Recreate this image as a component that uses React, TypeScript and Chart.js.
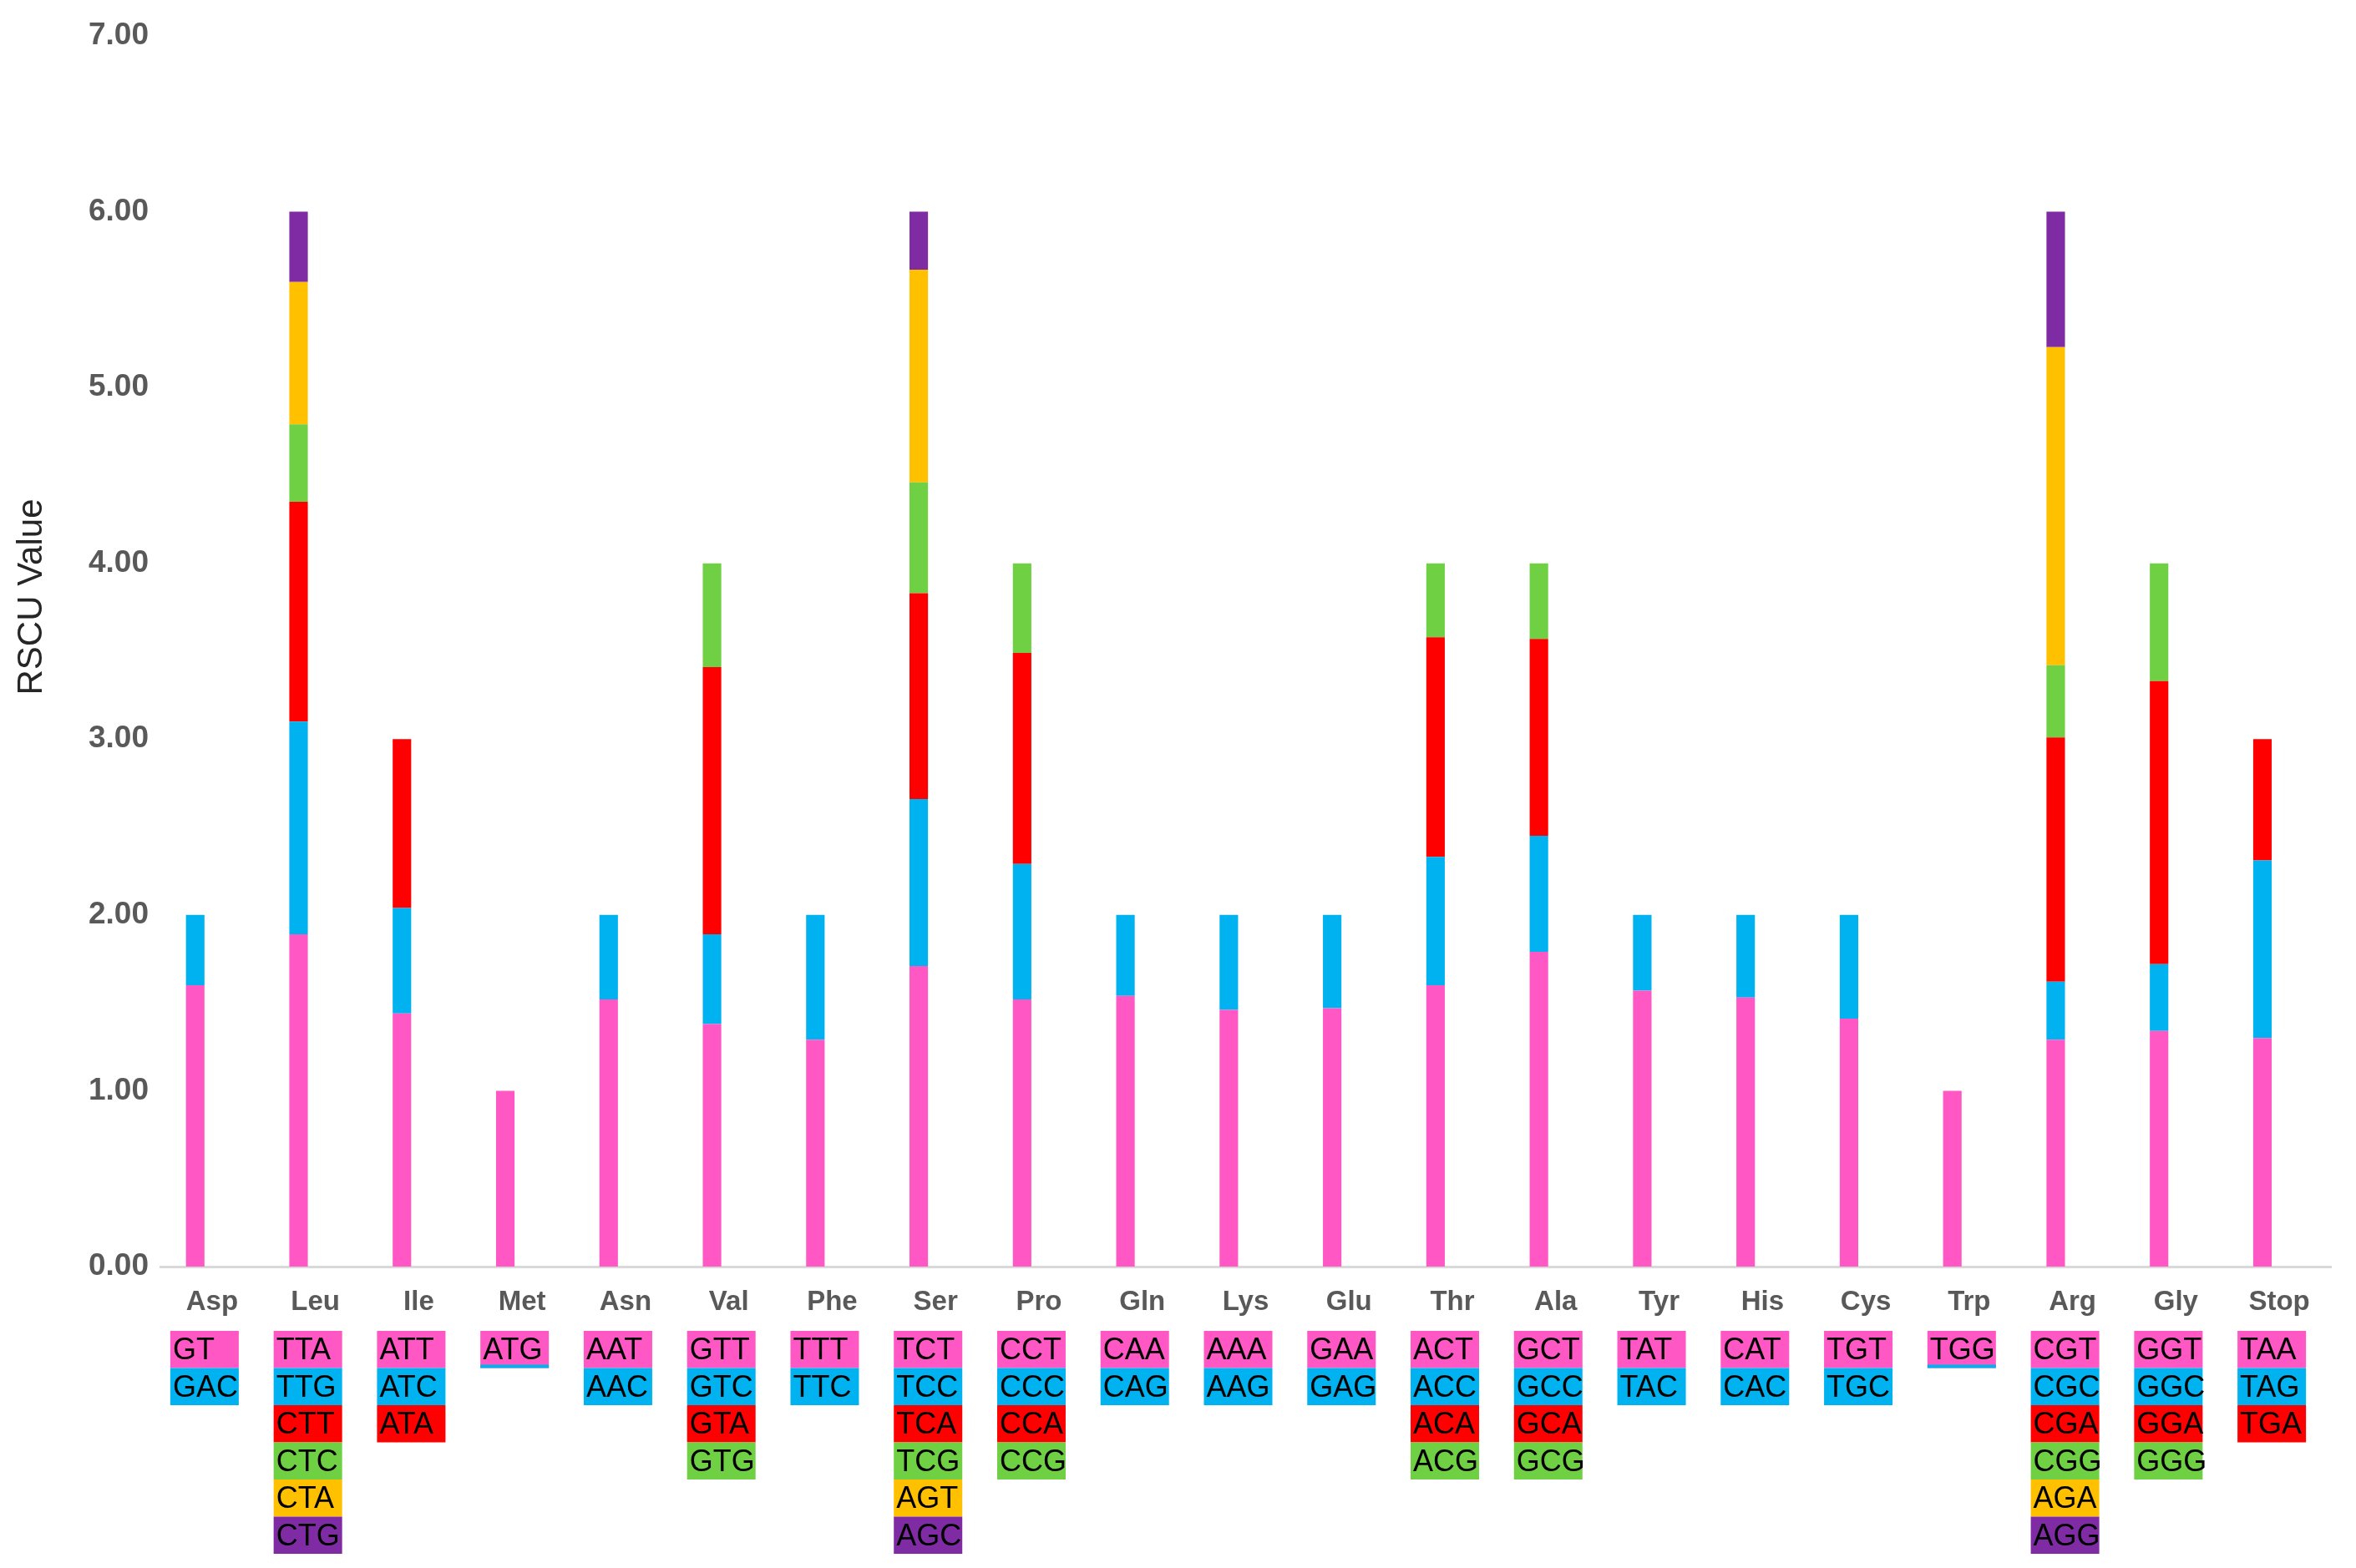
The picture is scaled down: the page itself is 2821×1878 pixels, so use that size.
import { useEffect, useRef } from 'react';
import { Chart, registerables } from 'chart.js';

Chart.register(...registerables);

const FONT = '"Liberation Sans", Arial, Helvetica, sans-serif';

const categories = ['Asp', 'Leu', 'Ile', 'Met', 'Asn', 'Val', 'Phe', 'Ser', 'Pro', 'Gln', 'Lys', 'Glu', 'Thr', 'Ala', 'Tyr', 'His', 'Cys', 'Trp', 'Arg', 'Gly', 'Stop'];

// RSCU of 1st..6th codon of each amino acid (stack order bottom -> top)
const codon1 = [1.60, 1.89, 1.44, 1.00, 1.52, 1.38, 1.29, 1.71, 1.52, 1.54, 1.46, 1.47, 1.60, 1.79, 1.57, 1.53, 1.41, 1.00, 1.29, 1.34, 1.30];
const codon2 = [0.40, 1.21, 0.60, null, 0.48, 0.51, 0.71, 0.95, 0.77, 0.46, 0.54, 0.53, 0.73, 0.66, 0.43, 0.47, 0.59, null, 0.33, 0.38, 1.01];
const codon3 = [null, 1.25, 0.96, null, null, 1.52, null, 1.17, 1.20, null, null, null, 1.25, 1.12, null, null, null, null, 1.39, 1.61, 0.69];
const codon4 = [null, 0.44, null, null, null, 0.59, null, 0.63, 0.51, null, null, null, 0.42, 0.43, null, null, null, null, 0.41, 0.67, null];
const codon5 = [null, 0.81, null, null, null, null, null, 1.21, null, null, null, null, null, null, null, null, null, null, 1.81, null, null];
const codon6 = [null, 0.40, null, null, null, null, null, 0.33, null, null, null, null, null, null, null, null, null, null, 0.77, null, null];

const codonNames: string[][] = [
  ['GT', 'GAC'],
  ['TTA', 'TTG', 'CTT', 'CTC', 'CTA', 'CTG'],
  ['ATT', 'ATC', 'ATA'],
  ['ATG'],
  ['AAT', 'AAC'],
  ['GTT', 'GTC', 'GTA', 'GTG'],
  ['TTT', 'TTC'],
  ['TCT', 'TCC', 'TCA', 'TCG', 'AGT', 'AGC'],
  ['CCT', 'CCC', 'CCA', 'CCG'],
  ['CAA', 'CAG'],
  ['AAA', 'AAG'],
  ['GAA', 'GAG'],
  ['ACT', 'ACC', 'ACA', 'ACG'],
  ['GCT', 'GCC', 'GCA', 'GCG'],
  ['TAT', 'TAC'],
  ['CAT', 'CAC'],
  ['TGT', 'TGC'],
  ['TGG'],
  ['CGT', 'CGC', 'CGA', 'CGG', 'AGA', 'AGG'],
  ['GGT', 'GGC', 'GGA', 'GGG'],
  ['TAA', 'TAG', 'TGA'],
];

const yTicks = [0, 1, 2, 3, 4, 5, 6, 7];

const COLORS = ['#FF58C4', '#00B2F0', '#FF0000', '#6FD043', '#FFC000', '#7F2CA4'];
const seriesData = [codon1, codon2, codon3, codon4, codon5, codon6];

const codonTablePlugin = {
  id: 'codonTable',
  afterDraw(chart: any) {
    const ctx = chart.ctx;
    const xs = chart.scales.x;
    const top0 = chart.chartArea.bottom + 77;
    const rowH = 44.5;
    const boxW = 82;
    ctx.save();
    ctx.font = `36px ${FONT}`;
    ctx.textBaseline = 'middle';
    ctx.textAlign = 'left';
    codonNames.forEach((list, i) => {
      const cx = xs.getPixelForValue(i) - 9;
      const left = cx - boxW / 2;
      list.forEach((name, j) => {
        const y = top0 + j * rowH;
        ctx.fillStyle = COLORS[j];
        ctx.fillRect(left, y, boxW, rowH);
        ctx.fillStyle = '#000000';
        ctx.fillText(name, left + 3, y + rowH / 2 + 2);
      });
      if (list.length === 1) {
        ctx.fillStyle = COLORS[1];
        ctx.fillRect(left, top0 + rowH - 4, boxW, 4);
      }
    });
    ctx.restore();

    // y axis title
    ctx.save();
    ctx.translate(38, 715);
    ctx.rotate(-Math.PI / 2);
    ctx.font = `42px ${FONT}`;
    ctx.fillStyle = '#262626';
    ctx.textAlign = 'center';
    ctx.textBaseline = 'middle';
    ctx.fillText('RSCU Value', 0, 0);
    ctx.restore();
  },
};

export default function App() {
  const ref = useRef<HTMLCanvasElement>(null);

  useEffect(() => {
    document.body.style.margin = '0';
    const datasets: any[] = seriesData.map((d, k) => ({
      label: `Codon ${k + 1}`,
      data: d,
      backgroundColor: COLORS[k],
      borderWidth: 0,
      stack: 'a',
      barPercentage: 0.55,
      categoryPercentage: 0.651,
    }));
    datasets.push({
      label: 'spacer',
      data: categories.map(() => null),
      backgroundColor: 'rgba(0,0,0,0)',
      borderWidth: 0,
      stack: 'b',
      barPercentage: 0.55,
      categoryPercentage: 0.651,
    });

    const chart = new Chart(ref.current as HTMLCanvasElement, {
      type: 'bar',
      data: { labels: categories, datasets },
      options: {
        responsive: false,
        animation: false,
        devicePixelRatio: 1,
        layout: { padding: { left: 0, top: 43, right: 30, bottom: 0 } },
        plugins: { legend: { display: false }, tooltip: { enabled: false } },
        scales: {
          x: {
            stacked: true,
            grid: { display: false, drawTicks: false },
            border: { display: true, color: '#D9D9D9', width: 3 },
            ticks: {
              font: { family: FONT, size: 33, weight: 'bold' },
              color: '#595959',
              padding: 23,
              maxRotation: 0,
              autoSkip: false,
            },
            afterFit: (s: any) => {
              s.height = 361;
            },
          },
          y: {
            stacked: true,
            min: 0,
            max: 7,
            grid: { display: false, drawTicks: false },
            border: { display: false },
            afterBuildTicks: (s: any) => {
              s.ticks = yTicks.map((v) => ({ value: v }));
            },
            ticks: {
              font: { family: FONT, size: 37, weight: 'bold' },
              color: '#595959',
              padding: 14,
              callback: (v: any) => Number(v).toFixed(2),
            },
            afterFit: (s: any) => {
              s.width = 192;
            },
          },
        },
      },
      plugins: [codonTablePlugin],
    });
    return () => chart.destroy();
  }, []);

  return (
    <canvas
      ref={ref}
      width={2821}
      height={1878}
      style={{ display: 'block', width: '2821px', height: '1878px' }}
    />
  );
}
